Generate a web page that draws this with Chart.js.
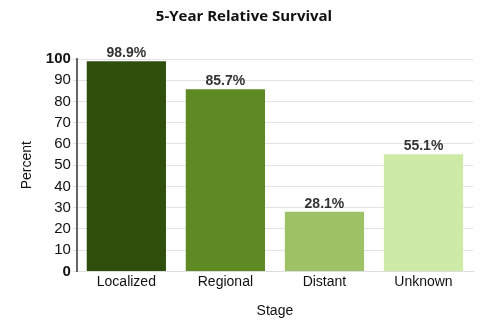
<!DOCTYPE html>
<html>
<head>
<meta charset="utf-8">
<script src="https://cdn.jsdelivr.net/npm/chart.js@4"></script>
<style>
  html, body { margin: 0; padding: 0; background: #fff; }
  #wrap { width: 496px; height: 329px; }
</style>
</head>
<body>
<div id="wrap"><canvas id="survivalChart"></canvas></div>
<script>
const stages = ['Localized', 'Regional', 'Distant', 'Unknown'];
const survival = [98.9, 85.7, 28.1, 55.1];
const barColors = ['#2f4f0c', '#5e8a23', '#9cc265', '#cdeaa6'];
const yTicks = [0, 10, 20, 30, 40, 50, 60, 70, 80, 90, 100];

// 막대 위에 값 표시
const valueLabels = {
  id: 'valueLabels',
  afterDatasetsDraw(chart) {
    const { ctx } = chart;
    const meta = chart.getDatasetMeta(0);
    ctx.save();
    ctx.font = 'bold 14px "Liberation Sans", Arial, sans-serif';
    ctx.fillStyle = '#333333';
    ctx.textAlign = 'center';
    ctx.textBaseline = 'bottom';
    meta.data.forEach((bar, i) => {
      ctx.fillText(survival[i].toFixed(1) + '%', bar.x, bar.y - 1);
    });
    ctx.restore();
  }
};

const sans = '"Liberation Sans", Arial, sans-serif';

new Chart(document.getElementById('survivalChart'), {
  type: 'bar',
  data: {
    labels: stages,
    datasets: [{
      data: survival,
      backgroundColor: barColors,
      borderWidth: 0,
      barPercentage: 0.8,
      categoryPercentage: 1.0
    }]
  },
  options: {
    responsive: true,
    maintainAspectRatio: false,
    animation: false,
    layout: { padding: { top: 8, right: 23, bottom: 5, left: 15 } },
    plugins: {
      legend: { display: false },
      tooltip: { enabled: false },
      title: {
        display: true,
        text: '5-Year Relative Survival',
        color: '#111',
        font: { family: '"Open Sans", sans-serif', size: 15, weight: 'bold' },
        padding: { top: 0, bottom: 33 }
      }
    },
    scales: {
      x: {
        grid: { display: false },
        border: { color: '#dddddd' },
        ticks: {
          color: '#111',
          font: { family: sans, size: 14 },
          padding: -6
        },
        title: {
          display: true,
          text: 'Stage',
          color: '#111',
          font: { family: sans, size: 14 },
          padding: { top: 19 }
        }
      },
      y: {
        min: 0,
        max: 100,
        afterBuildTicks: axis => { axis.ticks = yTicks.map(v => ({ value: v })); },
        grid: { color: '#e3e3e3', drawTicks: true, tickLength: 4 },
        border: { color: '#666666', width: 2 },
        ticks: {
          color: '#111',
          padding: 2,
          autoSkip: false,
          font: ctx => ({
            family: sans,
            size: 15,
            weight: (ctx.tick && (ctx.tick.value === 0 || ctx.tick.value === 100)) ? 'bold' : 'normal'
          })
        },
        title: {
          display: true,
          text: 'Percent',
          color: '#111',
          font: { family: sans, size: 14 },
          padding: { bottom: 8 }
        }
      }
    }
  },
  plugins: [valueLabels]
});
</script>
</body>
</html>
